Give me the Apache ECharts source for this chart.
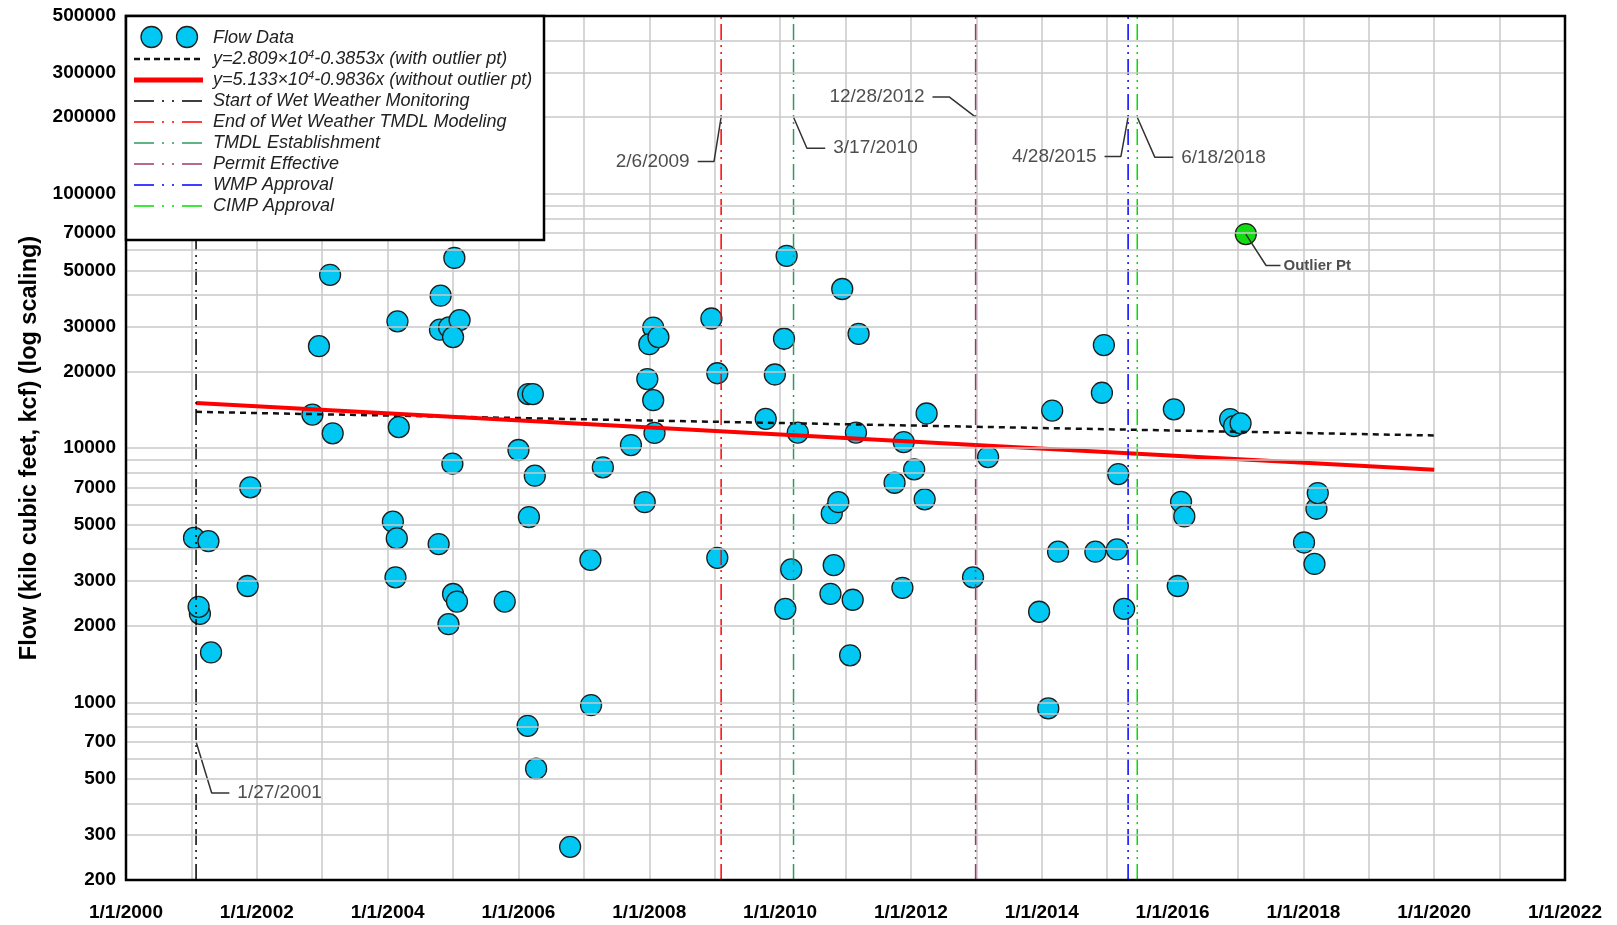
<!DOCTYPE html>
<html><head><meta charset="utf-8">
<script src="https://cdn.jsdelivr.net/npm/echarts@6/dist/echarts.min.js"></script>
<style>html,body{margin:0;padding:0;background:#fff}#c{width:1617px;height:925px}</style>
</head><body><div id="c"></div>
<script>
// ---------------- data ----------------
const flowYears = [
  2001.04, 2001.26, 2001.13, 2001.11, 2001.30, 2001.90, 2001.86,
  2002.85, 2002.95, 2003.12, 2003.16,
  2004.15, 2004.17, 2004.08, 2004.14, 2004.12,
  2004.81, 2004.80, 2004.94, 2005.10, 2005.00, 2005.02, 2004.99, 2004.78, 2005.00, 2005.06, 2004.93,
  2005.79, 2006.00, 2006.15, 2006.22, 2006.25, 2006.16, 2006.14, 2006.27, 2006.79,
  2007.11, 2007.10, 2007.29, 2007.72, 2007.93, 2007.97, 2008.06, 2008.08, 2008.06, 2008.00, 2008.14,
  2008.95, 2009.04, 2009.04, 2009.78, 2009.92, 2010.06, 2010.10, 2010.27, 2010.17, 2010.08,
  2010.77, 2010.79, 2010.82, 2010.89, 2010.95, 2011.07, 2011.11, 2011.16, 2011.20,
  2011.75, 2011.87, 2011.89, 2012.05, 2012.21, 2012.24, 2012.95, 2013.18,
  2013.96, 2014.10, 2014.16, 2014.25, 2014.82, 2014.92, 2014.95, 2015.15, 2015.17, 2015.26,
  2016.02, 2016.08, 2016.13, 2016.18, 2016.88, 2016.94, 2017.04,
  2018.01, 2018.17, 2018.20, 2018.22
];
const flowValues = [
  4430, 4300, 2228, 2374, 1570, 7000, 2866,
  13530, 25140, 47980, 11420,
  31480, 12080, 5130, 4410, 3100,
  39720, 29200, 29800, 31840, 27300, 55900, 8680, 4190, 2666, 2490, 2028,
  2490, 9820, 16300, 16300, 7780, 5350, 808, 548, 270,
  975, 3630, 8390, 10270, 6120, 18670, 15420, 11460, 29760, 25600, 27300,
  32300, 19680, 3700, 13020, 19460, 26900, 57000, 11500, 3330, 2330,
  2670, 5530, 3460, 6120, 42200, 1530, 2530, 11500, 28100,
  7300, 2820, 10550, 8240, 6280, 13670, 3100, 9210,
  2270, 946, 14040, 3910, 3910, 16490, 25400, 3990, 7900, 2330,
  14200, 2866, 6140, 5380, 13000, 12200, 12500,
  4250, 3500, 5770, 6650
];
const outlierYear = 2017.12;
const outlierValue = 69400;

const trendYears = [2001.07, 2020.0];
const trendWithOutlier = [13870, 11200];
const trendWithoutOutlier = [15020, 8218];

const eventNames = ['Start of Wet Weather Monitoring', 'End of Wet Weather TMDL Modeling',
  'TMDL Establishment', 'Permit Effective', 'WMP Approval', 'CIMP Approval'];
const eventDates = ['2001-01-27', '2009-02-06', '2010-03-17', '2012-12-28', '2015-04-28', '2015-06-18'];
const eventLabels = ['1/27/2001', '2/6/2009', '3/17/2010', '12/28/2012', '4/28/2015', '6/18/2018'];
const eventColors = ['#000000', '#ff0000', '#2e9b5e', '#9b3a6a', '#0000ff', '#00e000'];

// leader lines for date labels: anchor value on event line, elbow and end points
const leaderAnchorValue = [700, 200000, 200000, 200000, 200000, 200000];
const leaderElbowYear = [2001.31, 2008.99, 2010.41, 2012.59, 2015.21, 2015.73];
const leaderElbowValue = [440, 134000, 151000, 240000, 140000, 139000];
const leaderEndYear = [2001.58, 2008.74, 2010.69, 2012.33, 2014.96, 2016.01];
const leaderSide = ['right', 'left', 'right', 'left', 'left', 'right'];

const outlierLeaderYears = [2017.12, 2017.43, 2017.65];
const outlierLeaderValues = [69400, 52200, 52200];

const yTickLabels = [200, 300, 500, 700, 1000, 2000, 3000, 5000, 7000, 10000, 20000, 30000,
  50000, 70000, 100000, 200000, 300000, 500000];
const yGridValues = [300, 400, 500, 600, 700, 800, 900, 1000, 2000, 3000, 4000, 5000, 6000, 7000,
  8000, 9000, 10000, 20000, 30000, 40000, 50000, 60000, 70000, 80000, 90000, 100000, 200000,
  300000, 400000];
const xTickYears = [2000, 2002, 2004, 2006, 2008, 2010, 2012, 2014, 2016, 2018, 2020, 2022];

// ---------------- helpers ----------------
function decYear(s) {
  const d = Date.parse(s + 'T00:00:00Z');
  const y = new Date(d).getUTCFullYear();
  const a = Date.UTC(y, 0, 1), b = Date.UTC(y + 1, 0, 1);
  return y + (d - a) / (b - a);
}
const eventX = eventDates.map(decYear);
const DASHDOT = [16, 5, 2, 5, 2, 5];
const TXT_FONT = '"Liberation Sans", Arial, sans-serif';

const series = [];

// horizontal grid lines at log minor ticks
series.push({
  type: 'line', data: [], z: 1, silent: true,
  markLine: {
    silent: true, symbol: 'none', animation: false,
    label: { show: false },
    lineStyle: { color: '#c8c8c8', width: 1.5, type: 'solid' },
    emphasis: { disabled: true },
    data: yGridValues.map(v => ({ yAxis: v }))
  }
});

// flow data
series.push({
  type: 'scatter', name: 'Flow Data', z: 3,
  data: flowYears.map((x, i) => [x, flowValues[i]]),
  symbol: 'circle', symbolSize: 21,
  itemStyle: { color: '#00c8f2', borderColor: '#1e1e1e', borderWidth: 1.3, opacity: 1 }
});
// outlier
series.push({
  type: 'scatter', name: 'Outlier', z: 3,
  data: [[outlierYear, outlierValue]],
  symbol: 'circle', symbolSize: 21,
  itemStyle: { color: '#12dd12', borderColor: '#1e1e1e', borderWidth: 1.3, opacity: 1 }
});

// trend lines
series.push({
  type: 'line', z: 4, symbol: 'none',
  data: trendYears.map((x, i) => [x, trendWithOutlier[i]]),
  lineStyle: { color: '#111', width: 2.5, type: [6, 5] }
});
series.push({
  type: 'line', z: 4, symbol: 'none',
  data: trendYears.map((x, i) => [x, trendWithoutOutlier[i]]),
  lineStyle: { color: '#ff0000', width: 4, type: 'solid' }
});

// event lines
eventX.forEach((x, i) => {
  series.push({
    type: 'line', z: 4, symbol: 'none', name: eventNames[i],
    data: [[x, 200], [x, 500000]],
    lineStyle: { color: eventColors[i], width: 1.5, type: DASHDOT }
  });
  // leader line
  series.push({
    type: 'line', z: 4, symbol: 'none',
    data: [[x, leaderAnchorValue[i]], [leaderElbowYear[i], leaderElbowValue[i]], [leaderEndYear[i], leaderElbowValue[i]]],
    lineStyle: { color: '#333', width: 1.5 }
  });
});
// date label texts
series.push({
  type: 'scatter', z: 5, symbolSize: 0, silent: true,
  data: eventLabels.map((t, i) => ({
    name: t, value: [leaderEndYear[i], leaderElbowValue[i]],
    label: { position: leaderSide[i] }
  })),
  label: {
    show: true, formatter: p => p.name, distance: 8,
    fontFamily: TXT_FONT, fontSize: 19, color: '#222'
  }
});
// outlier leader and label
series.push({
  type: 'line', z: 6, symbol: 'none',
  data: outlierLeaderYears.map((x, i) => [x, outlierLeaderValues[i]]),
  lineStyle: { color: '#333', width: 1.5 }
});
series.push({
  type: 'scatter', z: 6, symbolSize: 0, silent: true,
  data: [{ name: 'Outlier Pt', value: [outlierLeaderYears[2], outlierLeaderValues[2]] }],
  label: {
    show: true, position: 'right', distance: 3, formatter: p => p.name,
    fontFamily: TXT_FONT, fontWeight: 'bold', fontSize: 15, color: '#222'
  }
});

// ---------------- legend (graphic) ----------------
const LX = 126, LY = 16, rowY = [38, 59, 80, 101, 122, 143, 164, 185, 206];
const LZ = 100;
const legendItems = [];
legendItems.push({ type: 'rect', z: LZ, shape: { x: LX, y: LY, width: 418, height: 224 },
  style: { fill: '#fff', stroke: '#000', lineWidth: 2.5 } });
legendItems.push({ type: 'circle', z: LZ + 1, shape: { cx: 151.5, cy: rowY[0] - 1, r: 10.5 },
  style: { fill: '#00c8f2', stroke: '#1e1e1e', lineWidth: 1.3 } });
legendItems.push({ type: 'circle', z: LZ + 1, shape: { cx: 187, cy: rowY[0] - 1, r: 10.5 },
  style: { fill: '#00c8f2', stroke: '#1e1e1e', lineWidth: 1.3 } });
legendItems.push({ type: 'line', z: LZ + 1, shape: { x1: 134, y1: rowY[1], x2: 203, y2: rowY[1] },
  style: { stroke: '#111', lineWidth: 2.5, lineDash: [6, 4] } });
legendItems.push({ type: 'line', z: LZ + 1, shape: { x1: 134, y1: rowY[2], x2: 203, y2: rowY[2] },
  style: { stroke: '#ff0000', lineWidth: 5 } });
eventColors.forEach((c, i) => {
  legendItems.push({ type: 'line', z: LZ + 1, shape: { x1: 134, y1: rowY[3 + i], x2: 203, y2: rowY[3 + i] },
    style: { stroke: c, lineWidth: 1.5, lineDash: [20, 8, 2, 8, 2, 8] } });
});
const legendTexts = ['Flow Data', 'y=2.809\u00d710{s|4}-0.3853x (with outlier pt)',
  'y=5.133\u00d710{s|4}-0.9836x (without outlier pt)'].concat(eventNames);
legendTexts.forEach((t, i) => {
  legendItems.push({ type: 'text', z: LZ + 1, x: 213, y: rowY[i],
    style: { text: t, fill: '#222', fontFamily: TXT_FONT, fontStyle: 'italic', fontSize: 18,
      verticalAlign: 'middle', align: 'left',
      rich: { s: { fontSize: 11, fontStyle: 'italic', fontFamily: TXT_FONT, fill: '#222', padding: [0, 0, 9, 0] } } } });
});

const option = {
  animation: false,
  backgroundColor: '#fff',
  grid: { left: 126, right: 52, top: 16, bottom: 45, show: true, z: 10,
    backgroundColor: 'transparent', borderColor: '#000', borderWidth: 2.5 },
  xAxis: {
    type: 'value', min: 2000, max: 2022, interval: 1,
    axisLine: { show: false }, axisTick: { show: false },
    splitLine: { show: true, showMinLine: false, showMaxLine: false,
      lineStyle: { color: '#c8c8c8', width: 1.5 } },
    axisLabel: { customValues: xTickYears, formatter: v => '1/1/' + v, margin: 23,
      fontFamily: TXT_FONT, fontWeight: 'bold', fontSize: 19, color: '#000' }
  },
  yAxis: {
    type: 'log', logBase: 10, min: 200, max: 500000,
    axisLine: { show: false }, axisTick: { show: false },
    splitLine: { show: false },
    axisLabel: { customValues: yTickLabels, formatter: v => String(Math.round(v)), margin: 10,
      fontFamily: TXT_FONT, fontWeight: 'bold', fontSize: 19, color: '#000' },
    name: 'Flow (kilo cubic feet, kcf) (log scaling)', nameLocation: 'middle', nameGap: 83,
    nameTextStyle: { fontFamily: TXT_FONT, fontWeight: 'bold', fontSize: 23.5, color: '#000' }
  },
  graphic: [{ type: 'group', z: LZ, children: legendItems }],
  series: series
};
const chart = echarts.init(document.getElementById('c'));
chart.setOption(option);
</script></body></html>
